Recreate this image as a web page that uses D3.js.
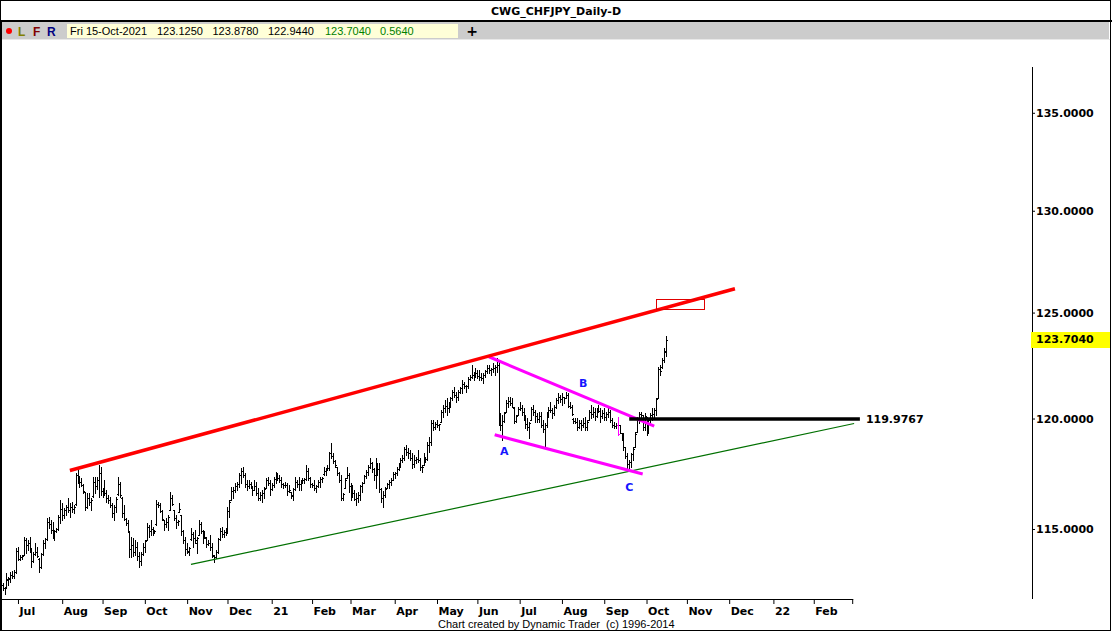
<!DOCTYPE html>
<html><head><meta charset="utf-8">
<script src="https://cdn.jsdelivr.net/npm/d3@7"></script>
<style>
html,body{margin:0;padding:0;background:#fff;}
svg{display:block;}
</style></head><body>
<svg id="chart" width="1112" height="632"></svg>
<script>
// ---------------- DATA ----------------
const chartTitle = "CWG_CHFJPY_Daily-D";
const firstBarDate = "2020-06-19";   // daily bars, one per weekday
const calendarEnd = "2022-03-31";

const highs = [
112.62,112.46,113.06,112.89,113.10,113.15,113.19,114.16,114.20,113.85,
113.85,114.64,114.60,114.51,114.64,114.16,113.98,114.38,114.20,113.72,
113.94,114.51,114.60,115.49,115.53,115.40,115.31,114.95,115.04,115.62,
116.29,116.16,115.93,116.07,116.38,116.16,116.20,116.07,117.50,117.64,
117.37,117.28,117.01,116.65,116.61,116.61,116.38,117.33,117.33,117.33,
117.86,117.77,116.83,117.19,116.74,116.51,116.42,116.16,116.07,116.42,
117.33,117.10,116.42,116.07,115.49,115.40,114.86,114.64,114.60,114.51,
114.42,113.98,113.98,114.38,114.51,115.27,115.18,115.40,115.09,114.95,
116.29,116.20,116.16,115.84,115.40,115.49,115.62,116.65,116.51,115.84,
115.62,115.40,116.16,115.62,114.95,114.64,114.38,114.20,115.04,114.86,
114.95,114.64,115.40,115.31,114.95,114.91,114.64,114.51,114.73,114.38,
113.85,114.07,114.60,115.04,115.09,114.95,115.04,115.97,116.29,116.88,
116.88,117.06,117.10,117.50,117.73,117.77,117.50,117.19,117.19,117.10,
116.88,117.19,117.10,116.83,116.65,116.74,116.88,117.28,117.33,117.19,
117.06,117.33,117.55,117.50,117.42,117.33,117.06,117.10,117.06,116.97,
116.65,116.83,117.33,117.19,117.33,117.19,117.28,117.28,117.86,117.73,
117.33,117.06,117.19,116.97,117.19,117.33,117.33,117.77,117.73,117.86,
118.46,118.87,118.41,118.10,117.77,117.55,117.42,116.61,117.28,117.77,
117.50,117.06,116.97,116.74,116.61,116.65,116.97,117.10,117.42,117.64,
117.86,118.19,118.01,117.73,118.19,117.96,117.96,116.83,116.69,116.88,
117.06,117.19,117.28,117.55,117.55,117.77,117.96,118.19,118.32,118.69,
118.78,118.64,118.55,118.41,118.32,118.23,118.55,118.19,117.86,118.41,
118.23,118.92,119.15,119.93,119.95,119.82,119.95,119.77,120.39,120.62,
120.86,120.95,120.76,121.00,121.33,121.47,121.23,121.33,121.47,121.79,
121.70,121.56,121.93,122.03,122.50,122.17,122.36,122.26,122.26,122.12,
122.12,122.26,122.50,122.50,122.36,122.60,122.50,122.83,122.64,120.25,
120.16,120.30,120.86,121.00,121.00,120.95,120.53,120.16,120.53,120.76,
120.62,120.48,120.16,120.02,119.84,120.53,120.62,120.39,120.25,120.30,
120.30,119.93,119.79,120.30,120.53,120.76,120.48,120.62,120.95,121.19,
121.09,121.19,121.00,121.23,121.19,120.76,120.62,120.02,120.02,120.02,
119.93,119.93,120.02,120.07,119.93,120.39,120.62,120.53,120.48,120.48,
120.62,120.48,120.39,120.48,120.30,120.48,120.39,120.02,119.84,119.79,
120.08,119.70,119.33,119.33,118.69,118.41,118.10,118.41,118.69,119.38,
120.07,120.30,120.30,120.16,120.25,120.07,120.02,120.25,120.48,120.48,
120.95,122.40,122.50,122.83,123.30,123.878
];
const lows = [
112.33,112.16,112.46,112.55,112.68,112.85,112.85,113.06,113.63,113.63,
113.67,113.85,113.94,114.07,113.98,113.32,113.54,113.85,113.76,113.10,
113.28,113.85,114.16,114.51,115.04,114.82,114.60,114.51,114.86,114.95,
115.27,115.40,115.49,115.62,115.75,115.53,115.75,115.71,116.07,117.06,
116.88,116.92,116.61,115.84,115.93,116.07,115.84,116.42,116.61,116.79,
116.42,116.51,116.42,116.51,116.20,116.16,115.97,115.53,115.40,115.75,
116.51,116.42,115.53,115.40,115.18,114.86,113.76,113.76,113.81,113.85,
113.63,113.32,113.41,113.85,113.98,114.51,114.64,114.73,114.73,114.82,
115.18,115.97,115.75,115.40,114.95,115.09,114.95,115.84,116.07,115.40,
115.04,115.18,115.75,114.73,114.38,113.85,113.94,113.85,114.51,114.20,
114.38,113.94,114.73,114.82,114.38,114.60,114.20,114.29,114.07,113.76,
113.54,113.72,113.94,114.51,114.64,114.64,114.73,114.82,115.53,116.29,
116.38,116.65,116.74,116.88,117.06,117.33,116.88,116.74,116.83,116.83,
116.51,116.74,116.51,116.29,116.29,116.20,116.38,116.83,116.97,116.51,
116.74,116.88,117.06,117.19,117.10,116.88,116.83,116.88,116.51,116.65,
116.38,116.29,116.74,116.88,116.74,116.74,117.06,117.06,117.19,117.19,
116.88,116.88,116.74,116.65,116.88,116.88,117.10,117.42,117.42,117.64,
117.64,118.19,117.96,117.77,117.42,117.10,116.29,116.29,116.83,117.28,
116.65,116.29,116.42,116.29,116.07,116.20,116.29,116.65,117.06,117.28,
117.42,117.73,117.55,117.19,116.83,117.42,116.65,116.20,115.97,116.42,
116.83,116.83,116.97,117.19,117.28,117.42,117.64,117.77,118.01,118.10,
118.32,118.19,118.10,117.73,117.77,117.96,118.01,117.64,117.55,117.86,
118.01,118.10,118.46,118.78,119.47,119.50,119.63,119.47,119.84,120.07,
120.30,120.16,120.30,120.53,120.86,121.00,120.76,120.86,121.19,121.19,
121.42,121.23,121.42,121.79,121.88,121.79,121.93,121.88,121.79,121.79,
121.65,121.93,122.12,122.12,122.03,122.17,122.03,122.17,119.70,119.45,
119.01,119.84,120.30,120.53,120.62,120.53,119.79,119.84,120.16,120.39,
120.16,119.93,119.56,119.47,119.10,119.93,120.16,119.84,119.84,119.84,
119.61,119.38,118.69,119.61,120.07,120.30,120.02,120.16,120.48,120.72,
120.76,120.62,120.72,120.95,120.53,120.48,120.16,119.79,119.79,119.47,
119.56,119.47,119.61,119.47,119.47,119.93,120.02,120.07,119.93,120.07,
120.30,119.84,120.02,119.93,119.93,120.07,119.84,119.61,119.56,119.56,
119.24,119.33,119.01,118.55,118.19,117.73,117.64,117.77,118.10,118.69,
119.38,119.79,120.07,119.47,119.47,119.24,119.33,119.79,119.93,120.07,
120.16,120.95,122.03,122.36,122.64,122.944
];
const opens = [
112.55,112.40,112.48,112.78,112.80,113.00,112.95,113.10,114.05,113.70,
113.75,113.85,114.50,114.30,114.40,114.05,113.60,113.90,114.00,113.70,
113.35,113.90,114.40,114.55,115.30,115.20,114.95,114.70,114.90,115.00,
115.55,115.90,115.60,115.85,116.00,115.85,116.00,115.90,116.10,117.40,
117.20,117.10,116.95,116.65,116.00,116.40,116.20,116.45,117.10,116.90,
117.20,117.50,116.70,116.80,116.60,116.40,116.30,116.05,115.70,116.00,
116.55,117.00,116.40,115.70,115.45,115.25,114.86,114.10,114.30,114.00,
114.20,113.80,113.60,113.90,114.20,114.50,115.10,114.90,115.00,114.88,
115.20,116.10,116.05,115.80,115.40,115.20,115.30,115.85,116.40,115.84,
115.50,115.30,115.75,115.60,114.90,114.50,114.10,114.00,114.55,114.80,
114.60,114.40,114.75,115.20,114.90,114.70,114.60,114.35,114.40,114.20,
113.80,113.75,114.00,114.55,114.90,114.80,114.85,114.95,115.80,116.30,
116.70,116.75,116.90,117.00,117.40,117.60,117.40,117.00,116.90,117.00,
116.85,116.75,116.90,116.60,116.40,116.50,116.60,116.85,117.20,117.05,
116.80,116.95,117.25,117.40,117.30,117.20,117.00,116.95,116.95,116.70,
116.65,116.45,116.80,117.10,117.00,117.00,117.15,117.20,117.25,117.60,
117.30,117.00,116.95,116.85,116.90,117.10,117.25,117.45,117.60,117.70,
117.75,118.40,118.30,118.05,117.77,117.50,117.20,116.40,116.85,117.30,
117.40,116.90,116.50,116.60,116.35,116.40,116.50,116.90,117.06,117.35,
117.55,117.80,117.95,117.70,117.40,117.80,117.70,116.80,116.40,116.50,
116.85,117.00,117.10,117.20,117.45,117.50,117.70,117.90,118.10,118.20,
118.60,118.45,118.40,118.20,117.90,118.10,118.15,118.10,117.80,117.86,
118.20,118.15,118.80,118.90,119.80,119.60,119.75,119.70,119.85,120.30,
120.50,120.60,120.50,120.70,120.95,121.25,121.10,121.00,121.25,121.40,
121.60,121.50,121.50,121.85,121.95,122.05,122.00,122.10,122.00,121.95,
121.90,122.05,122.20,122.35,122.25,122.30,122.35,122.40,122.50,120.00,
119.70,119.90,120.30,120.70,120.80,120.70,120.50,119.90,120.16,120.45,
120.50,120.30,120.00,119.75,119.60,119.93,120.45,120.30,120.10,120.00,
120.10,119.70,119.50,119.70,120.20,120.40,120.40,120.25,120.55,120.85,
121.00,120.90,121.00,120.95,121.10,120.60,120.55,120.00,119.90,119.85,
119.60,119.80,119.70,119.80,119.60,119.93,120.30,120.20,120.30,120.10,
120.40,120.35,120.10,120.25,120.05,120.20,120.30,119.95,119.70,119.65,
119.70,119.70,119.33,119.10,118.69,118.30,117.90,118.00,118.35,118.69,
119.38,119.95,120.20,120.15,119.60,120.05,119.40,119.95,120.15,120.20,
120.40,120.95,122.30,122.40,122.75,123.125
];
const closes = [
112.40,112.42,112.80,112.85,113.00,112.95,113.10,114.05,113.70,113.78,
113.82,114.50,114.30,114.40,114.05,113.60,113.90,114.00,113.80,113.35,
113.90,114.40,114.55,115.30,115.20,114.95,114.70,114.90,115.00,115.55,
115.90,115.60,115.85,116.00,115.85,116.00,115.90,116.00,117.40,117.20,
117.10,116.95,116.70,116.00,116.40,116.20,116.30,117.10,116.90,117.20,
117.50,116.70,116.80,116.60,116.40,116.30,116.05,115.70,116.00,116.35,
117.00,116.50,115.70,115.45,115.25,114.90,114.10,114.30,114.00,114.20,
113.80,113.60,113.90,114.20,114.45,115.10,114.90,115.00,114.90,114.92,
116.10,116.05,115.80,115.45,115.20,115.30,115.55,116.40,116.10,115.50,
115.30,115.35,115.90,114.90,114.50,114.10,114.05,114.15,114.80,114.60,
114.50,114.60,115.20,114.90,114.70,114.65,114.35,114.40,114.20,113.85,
113.75,114.00,114.55,114.90,114.80,114.85,114.95,115.80,116.20,116.70,
116.75,116.90,117.00,117.40,117.60,117.40,117.00,116.90,117.00,116.90,
116.75,116.90,116.60,116.40,116.50,116.60,116.80,117.20,117.05,116.80,
116.95,117.25,117.40,117.30,117.20,117.00,116.95,116.95,116.70,116.75,
116.50,116.80,117.10,117.00,117.00,117.15,117.20,117.25,117.60,117.30,
117.00,116.95,116.85,116.90,117.10,117.25,117.30,117.60,117.70,117.75,
118.40,118.30,118.05,117.85,117.50,117.20,116.40,116.55,117.20,117.40,
116.90,116.50,116.60,116.35,116.40,116.50,116.90,117.05,117.35,117.55,
117.80,117.95,117.70,117.40,117.80,117.70,116.80,116.40,116.50,116.80,
117.00,117.10,117.20,117.45,117.50,117.70,117.90,118.10,118.20,118.60,
118.45,118.40,118.20,117.90,118.10,118.15,118.10,117.80,117.80,118.20,
118.15,118.80,118.90,119.80,119.60,119.75,119.70,119.75,120.30,120.50,
120.60,120.50,120.70,120.95,121.25,121.10,121.00,121.25,121.40,121.60,
121.50,121.50,121.85,121.95,122.05,122.00,122.10,122.00,121.95,121.90,
122.05,122.20,122.35,122.25,122.30,122.35,122.40,122.50,120.00,119.70,
119.90,120.25,120.70,120.80,120.70,120.55,119.90,120.10,120.45,120.50,
120.30,120.00,119.75,119.60,119.80,120.45,120.30,120.10,120.00,120.10,
119.70,119.50,119.70,120.20,120.40,120.40,120.25,120.55,120.85,121.00,
120.90,121.00,120.95,121.10,120.60,120.55,120.20,119.90,119.85,119.60,
119.80,119.70,119.80,119.60,119.85,120.30,120.20,120.30,120.10,120.40,
120.35,120.10,120.25,120.05,120.20,120.30,119.95,119.70,119.65,119.70,
119.30,119.35,119.10,118.70,118.30,117.90,118.00,118.35,118.60,119.30,
119.95,120.20,120.15,119.60,120.10,119.40,119.95,120.15,120.20,120.40,
120.90,122.30,122.20,122.75,123.14,123.704
];
const highlightBarDates = ["2021-09-10"];

const priceTicks = [115, 120, 125, 130, 135];
const monthTickDates = ["2020-07-01","2020-08-03","2020-09-01","2020-10-01","2020-11-02","2020-12-01",
  "2021-01-01","2021-02-01","2021-03-01","2021-04-01","2021-05-03","2021-06-01","2021-07-01","2021-08-02",
  "2021-09-01","2021-10-01","2021-11-01","2021-12-01","2022-01-03","2022-02-01","2022-03-01"];
const monthTickLabels = ["Jul","Aug","Sep","Oct","Nov","Dec","21","Feb","Mar","Apr","May","Jun","Jul","Aug",
  "Sep","Oct","Nov","Dec","22","Feb",""];

// trendlines: [startDate, startPrice, endDate, endPrice]
const redTrend   = ["2020-08-07", 117.62, "2021-12-06", 126.15];
const greenTrend = ["2020-11-04", 113.44, "2022-03-02", 119.77];
const magentaUpper = ["2021-06-09", 122.89, "2021-10-07", 119.65];
const magentaLower = ["2021-06-14", 119.25, "2021-09-29", 117.46];
const levelLine = ["2021-09-20", 119.9767, "2022-03-07", 119.9767];
const targetBox = ["2021-10-08", 125.16, "2021-11-12", 125.66];
const waveLabels = ["A", "B", "C"];
const waveLabelDates = ["2021-06-21", "2021-08-17", "2021-09-20"];
const waveLabelPrices = [118.52, 121.65, 116.85];

const footerText = "Chart created by Dynamic Trader  (c) 1996-2014";

// ---------------- CHART ----------------
const svg = d3.select("#chart");
const parse = d3.utcParse("%Y-%m-%d");
const fmt = d3.utcFormat("%Y-%m-%d");
const calendar = [];
for (let d = parse(firstBarDate); d <= parse(calendarEnd); d = d3.utcDay.offset(d, 1)) {
  const wd = d.getUTCDay();
  if (wd !== 0 && wd !== 6) calendar.push(d);
}
const idxOf = new Map(calendar.map((d, i) => [fmt(d), i]));
const pos = s => idxOf.get(s);

const x = d3.scaleLinear().domain([0, pos("2022-03-01")]).range([2.6, 852.2]);
const y = d3.scaleLog().domain([111.94, 138.84]).range([599, 40]);

const AXFONT = "'DejaVu Sans', Verdana, sans-serif";
const UIFONT = "'Liberation Sans', Arial, sans-serif";

// background
svg.append("rect").attr("width", 1112).attr("height", 632).attr("fill", "#fff");

// header
svg.append("text").attr("x", 556).attr("y", 15).attr("text-anchor", "middle")
  .attr("font-family", AXFONT).attr("font-weight", "bold").attr("font-size", 11)
  .text(chartTitle);
svg.append("rect").attr("x", 0).attr("y", 20).attr("width", 1112).attr("height", 2).attr("fill", "#000");
svg.append("rect").attr("x", 1).attr("y", 22).attr("width", 1108).attr("height", 17).attr("fill", "#cccccc");
svg.append("line").attr("x1", 1).attr("x2", 1110).attr("y1", 39.5).attr("y2", 39.5).attr("stroke", "#e8e8e8");

const tb = svg.append("g");
tb.append("circle").attr("cx", 9).attr("cy", 31).attr("r", 3).attr("fill", "#ff0000");
[["L", 18, "#808000"], ["F", 33, "#800000"], ["R", 47, "#000080"]].forEach(([t, xx, c]) => {
  tb.append("text").attr("x", xx).attr("y", 35.5).attr("fill", c)
    .attr("font-family", UIFONT).attr("font-weight", "bold").attr("font-size", 12).text(t);
});
tb.append("rect").attr("x", 67).attr("y", 24).attr("width", 391).attr("height", 14).attr("fill", "#ffffd8");
const last = highs.length - 1;
const lastDate = calendar[last];
const change = closes[last] - closes[last - 1];
const fields = [
  [d3.utcFormat("%a %d-%b-%Y")(lastDate), 70, "#000"],
  [opens[last].toFixed(4), 157, "#000"],
  [highs[last].toFixed(4), 212.5, "#000"],
  [lows[last].toFixed(4), 268, "#000"],
  [closes[last].toFixed(4), 325, "#008000"],
  [change.toFixed(4), 380, "#008000"]
];
fields.forEach(([t, xx, c]) => {
  tb.append("text").attr("x", xx).attr("y", 35).attr("fill", c)
    .attr("font-family", UIFONT).attr("font-size", 11).text(t);
});
tb.append("text").attr("x", 472).attr("y", 36).attr("text-anchor", "middle")
  .attr("font-family", AXFONT).attr("font-weight", "bold").attr("font-size", 14).text("+");

// bars
const highlight = new Set(highlightBarDates);
const bars = highs.map((h, i) => ({ i, o: opens[i], h, l: lows[i], c: closes[i], date: fmt(calendar[i]) }));
svg.append("g").attr("shape-rendering", "crispEdges").attr("fill", "none")
  .selectAll("path").data(bars).join("path")
  .attr("stroke", b => highlight.has(b.date) ? "#ff00ff" : "#000")
  .attr("stroke-width", 1)
  .attr("d", b => {
    const cx = Math.round(x(b.i)) + 0.5;
    const yh = Math.round(y(b.h)), yl = Math.round(y(b.l)) + 1;
    const yo = Math.round(y(b.o)) + 0.5, yc = Math.round(y(b.c)) + 0.5;
    return `M${cx},${yh}V${yl}M${cx - 1.5},${yo}H${cx}M${cx},${yc}H${cx + 1.5}`;
  });

// trend lines
function seg(t) { return { x1: x(pos(t[0])), y1: y(t[1]), x2: x(pos(t[2])), y2: y(t[3]) }; }
function drawLine(t, color, w) {
  const s = seg(t);
  svg.append("line").attr("x1", s.x1).attr("y1", s.y1).attr("x2", s.x2).attr("y2", s.y2)
    .attr("stroke", color).attr("stroke-width", w);
}
drawLine(greenTrend, "#007000", 1.2);
drawLine(magentaUpper, "#ff00ff", 3);
drawLine(magentaLower, "#ff00ff", 3);
drawLine(redTrend, "#ff0000", 3.5);
drawLine(levelLine, "#000000", 3.5);

// target box
{
  const s = seg(targetBox);
  svg.append("rect").attr("x", Math.round(s.x1) + 0.5).attr("y", Math.round(s.y2) + 0.5)
    .attr("width", Math.round(s.x2 - s.x1)).attr("height", Math.round(s.y1 - s.y2))
    .attr("fill", "none").attr("stroke", "#e00000").attr("stroke-width", 1);
}

// level label
svg.append("text").attr("x", x(pos(levelLine[2])) + 6).attr("y", y(levelLine[1])).attr("dy", "0.35em")
  .attr("font-family", AXFONT).attr("font-weight", "bold").attr("font-size", 11).attr("fill", "#000")
  .text(levelLine[1].toFixed(4));

// wave labels
svg.append("g").selectAll("text").data(waveLabels).join("text")
  .attr("x", (d, i) => x(pos(waveLabelDates[i])))
  .attr("y", (d, i) => y(waveLabelPrices[i]))
  .attr("dy", "0.35em").attr("text-anchor", "middle")
  .attr("font-family", AXFONT).attr("font-weight", "bold").attr("font-size", 11).attr("fill", "#1515ff")
  .text(d => d);

// right price axis
const gy = svg.append("g").attr("transform", "translate(1032,0)")
  .call(d3.axisRight(y).tickValues(priceTicks).tickSize(3).tickFormat(d => d.toFixed(4)));
gy.select(".domain").remove();
gy.append("line").attr("x1", 0.5).attr("x2", 0.5).attr("y1", 67).attr("y2", 599).attr("stroke", "#000");
gy.selectAll(".tick line").attr("stroke", "#000");
gy.selectAll(".tick text").attr("x", 4).attr("fill", "#000")
  .attr("font-family", AXFONT).attr("font-weight", "bold").attr("font-size", 11);

// current price tag
const yc = y(closes[last]);
svg.append("rect").attr("x", 1031).attr("y", Math.round(yc) - 8).attr("width", 79).attr("height", 16).attr("fill", "#ffff00");
svg.append("text").attr("x", 1036).attr("y", yc).attr("dy", "0.35em")
  .attr("font-family", AXFONT).attr("font-weight", "bold").attr("font-size", 11).attr("fill", "#000")
  .text(closes[last].toFixed(4));

// bottom time axis
const gx = svg.append("g").attr("transform", "translate(0,599)")
  .call(d3.axisBottom(x).tickValues(monthTickDates.map(pos)).tickSize(5).tickFormat((d, i) => monthTickLabels[i]));
gx.select(".domain").remove();
gx.append("line").attr("x1", 0).attr("x2", x(pos("2022-03-01")) + 1).attr("y1", 0.5).attr("y2", 0.5).attr("stroke", "#000");
gx.selectAll(".tick line").attr("stroke", "#000");
gx.selectAll(".tick text").attr("text-anchor", "start").attr("x", 1).attr("y", 16).attr("dy", null)
  .attr("fill", "#000").attr("font-family", AXFONT).attr("font-weight", "bold").attr("font-size", 11);

// footer
svg.append("text").attr("x", 438).attr("y", 628).style("white-space", "pre")
  .attr("font-family", UIFONT).attr("font-size", 11).attr("fill", "#000").text(footerText);

// outer frame
svg.append("rect").attr("x", 0.5).attr("y", 0.5).attr("width", 1110).attr("height", 630)
  .attr("fill", "none").attr("stroke", "#000").attr("stroke-width", 1);
svg.append("line").attr("x1", 1.5).attr("x2", 1.5).attr("y1", 20).attr("y2", 631).attr("stroke", "#000");
</script>
</body></html>
